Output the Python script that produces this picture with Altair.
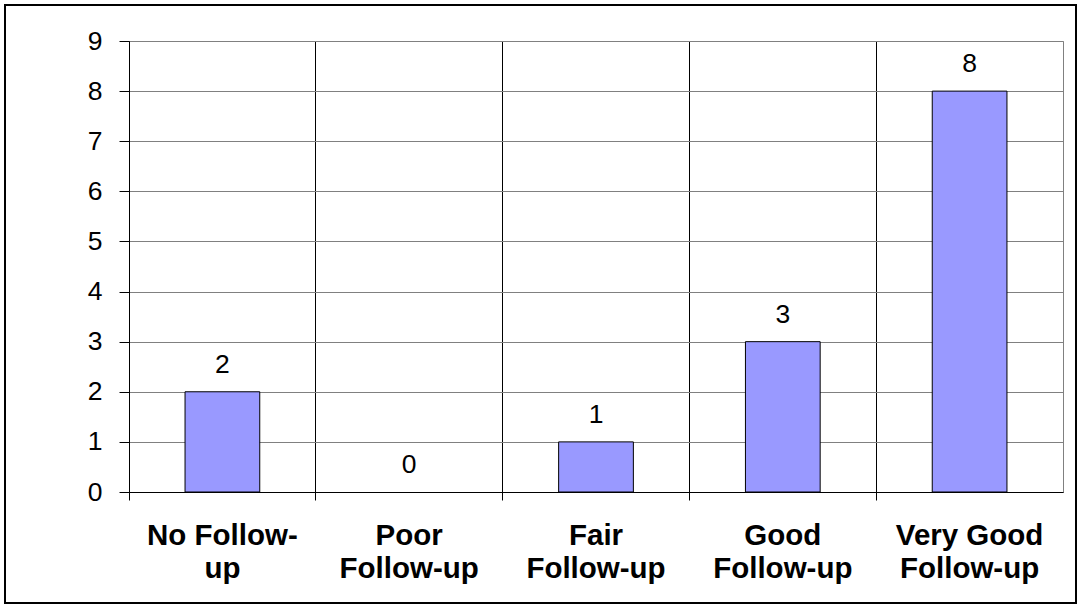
import altair as alt
import pandas as pd

# Follow-up quality ratings and how many responses fell in each
categories = ["No Follow-up", "Poor Follow-up", "Fair Follow-up", "Good Follow-up", "Very Good Follow-up"]
label_lines = [["No Follow-", "up"], ["Poor", "Follow-up"], ["Fair", "Follow-up"], ["Good", "Follow-up"], ["Very Good", "Follow-up"]]
counts = [2, 0, 1, 3, 8]
y_ticks = list(range(0, 10))

df = pd.DataFrame({"category": categories, "count": counts})

label_expr = "{" + ", ".join(
    f"'{c}': [{', '.join(repr(s) for s in lines)}]" for c, lines in zip(categories, label_lines)
) + "}[datum.value]"

FONT = "Liberation Sans"

x_enc = alt.X(
    "category:N",
    sort=categories,
    scale=alt.Scale(paddingInner=0, paddingOuter=0),
    axis=alt.Axis(
        title=None,
        labelAngle=0,
        labelExpr=label_expr,
        labelFont=FONT,
        labelFontSize=29.5,
        labelFontWeight="bold",
        labelColor="black",
        labelPadding=21,
        labelLineHeight=33,
        labelBaseline="top",
        bandPosition=0,
        grid=True,
        gridColor="black",
        gridWidth=1,
        ticks=True,
        tickSize=8,
        tickColor="black",
        domainColor="black",
        domainWidth=1,
    ),
)

y_enc = alt.Y(
    "count:Q",
    scale=alt.Scale(domain=[0, 9], nice=False),
    axis=alt.Axis(
        title=None,
        values=y_ticks,
        labelFont=FONT,
        labelFontSize=26.5,
        labelColor="black",
        labelPadding=17,
        tickSize=10,
        tickColor="black",
        grid=True,
        gridColor="#808080",
        gridWidth=1,
        domainColor="black",
        domainWidth=1,
    ),
)

# Zero counts get no bar, only their value label
bars = alt.Chart(df).transform_filter("datum.count > 0").mark_bar(
    width=alt.RelativeBandSize(0.4),
    color="#9999FF",
    stroke="black",
    strokeWidth=1,
).encode(x=x_enc, y=y_enc)

values = alt.Chart(df).mark_text(
    baseline="bottom",
    dy=-13,
    font=FONT,
    fontSize=26.5,
    color="black",
).encode(x=alt.X("category:N", sort=categories), y="count:Q", text="count:Q")

# Black frame around the whole chart
frame = alt.Chart(pd.DataFrame({"k": [0]})).mark_rect(
    fill=None, stroke="black", strokeWidth=2
).encode(
    x=alt.value(-124), x2=alt.value(947), y=alt.value(-36), y2=alt.value(562)
)

chart = alt.layer(bars, values, frame).properties(
    width=934,
    height=451,
    autosize=alt.AutoSizeParams(type="none"),
    padding={"left": 129, "top": 41, "right": 16, "bottom": 114},
    background="white",
).configure_view(
    stroke="#808080", strokeWidth=1
)

chart.save("out.html", embed_options={"renderer": "svg", "actions": False})
